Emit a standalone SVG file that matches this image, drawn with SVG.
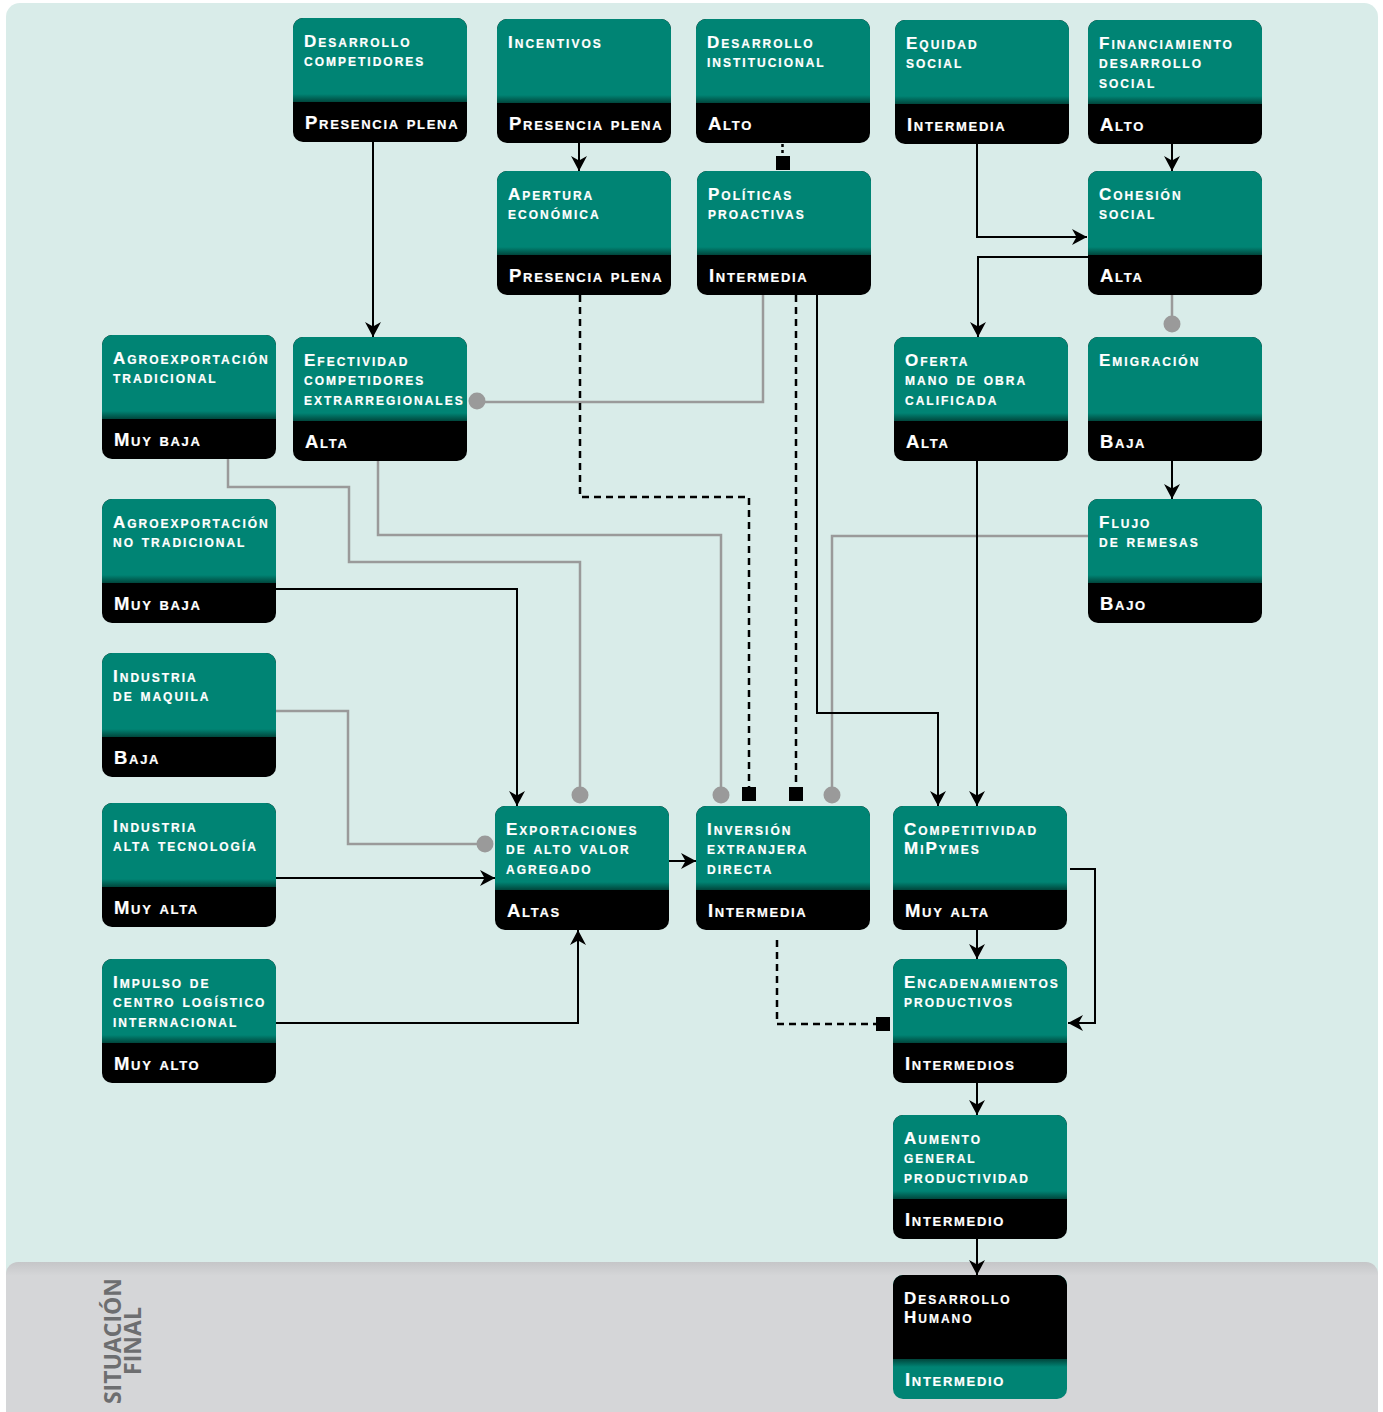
<svg xmlns="http://www.w3.org/2000/svg" width="1383" height="1412" viewBox="0 0 1383 1412">
<style>
.t{font-family:"Liberation Sans",Arial,sans-serif;font-weight:700;font-variant:small-caps;fill:#fff;stroke:#fff;stroke-width:0.2;font-size:17px;letter-spacing:2px}
.b{font-family:"Liberation Sans",Arial,sans-serif;font-weight:700;font-variant:small-caps;fill:#fff;stroke:#fff;stroke-width:0.2;font-size:18.5px;letter-spacing:1.7px}
.g{fill:#008474}
.ln{fill:none;stroke:#000;stroke-width:2}
.gr{fill:none;stroke:#9a9a9a;stroke-width:2.5}
.ds{fill:none;stroke:#000;stroke-width:2.5;stroke-dasharray:7 5}
.dot{fill:#9a9a9a}
.sq{fill:#000}
.sit{font-family:"Open Sans","Liberation Sans",sans-serif;font-weight:700;fill:#6d6e70;font-size:23px}
</style>
<defs>
<linearGradient id="shade" x1="0" y1="0" x2="0" y2="1">
<stop offset="0" stop-color="#008474"/><stop offset="1" stop-color="#00463c"/>
</linearGradient>
<linearGradient id="shadeInv" x1="0" y1="0" x2="0" y2="1">
<stop offset="0" stop-color="#00463c"/><stop offset="1" stop-color="#008474"/>
</linearGradient>
<linearGradient id="band" x1="0" y1="0" x2="0" y2="1">
<stop offset="0" stop-color="#c5c6c8"/><stop offset="0.08" stop-color="#d5d6d8"/><stop offset="1" stop-color="#d5d6d8"/>
</linearGradient>
<marker id="arr" viewBox="-16 -9 17 18" refX="0" refY="0" markerWidth="17" markerHeight="18" markerUnits="userSpaceOnUse" orient="auto">
<path d="M0,0 L-15,-8 L-10.5,0 L-15,8 Z" fill="#000"/>
</marker>
<g id="node">
<rect width="174" height="124" rx="10" fill="#000"/>
<path d="M0,84 V10 A10,10 0 0 1 10,0 H164 A10,10 0 0 1 174,10 V84 Z" class="g"/>
<rect y="76" width="174" height="8" fill="url(#shade)"/>
</g>
<g id="nodeInv">
<rect width="174" height="124" rx="10" class="g"/>
<path d="M0,84 V10 A10,10 0 0 1 10,0 H164 A10,10 0 0 1 174,10 V84 Z" fill="#000"/>
<rect y="84" width="174" height="8" fill="url(#shadeInv)"/>
</g>
</defs>

<rect x="0" y="0" width="1383" height="1412" fill="#fff"/>
<rect x="6" y="3" width="1372" height="1290" rx="14" fill="#d9ece9"/>
<rect x="6" y="1262" width="1372" height="170" rx="12" fill="url(#band)"/>
<text class="sit" transform="translate(121,1341) rotate(-90)" text-anchor="middle">SITUACIÓN</text>
<text class="sit" transform="translate(141,1341) rotate(-90)" text-anchor="middle">FINAL</text>

<g id="connectors">
<path class="ln" d="M373,142 V337" marker-end="url(#arr)"/>
<path class="ln" d="M579,142 V171" marker-end="url(#arr)"/>
<path d="M782.5,144 V156" fill="none" stroke="#000" stroke-width="2.5" stroke-dasharray="3 3"/>
<rect class="sq" x="776" y="156" width="14" height="14"/>
<path class="ln" d="M977,143 V237 H1087" marker-end="url(#arr)"/>
<path class="ln" d="M1172,143 V171" marker-end="url(#arr)"/>
<path class="ln" d="M1088,257 H978 V337" marker-end="url(#arr)"/>
<path class="gr" d="M1172,295 V324"/>
<circle class="dot" cx="1172" cy="324" r="8.5"/>
<path class="ln" d="M1172,460 V499" marker-end="url(#arr)"/>
<path class="gr" d="M1088,536 H832 V795"/>
<circle class="dot" cx="832" cy="795" r="8.5"/>
<path class="gr" d="M763,295 V402 H477"/>
<circle class="dot" cx="477" cy="401" r="8.5"/>
<path class="ds" d="M580,295 V497 H749 V787"/>
<rect class="sq" x="742" y="787" width="14" height="14"/>
<path class="ds" d="M796,295 V787"/>
<rect class="sq" x="789" y="787" width="14" height="14"/>
<path class="ln" d="M817,295 V713 H938 V806" marker-end="url(#arr)"/>
<path class="ln" d="M977,460 V806" marker-end="url(#arr)"/>
<path class="gr" d="M228,459 V487 H349 V562 H580 V795"/>
<circle class="dot" cx="580" cy="795" r="8.5"/>
<path class="gr" d="M378,460 V535 H721 V795"/>
<circle class="dot" cx="721" cy="795" r="8.5"/>
<path class="ln" d="M276,589 H517 V806" marker-end="url(#arr)"/>
<path class="gr" d="M276,711 H348 V844 H485"/>
<circle class="dot" cx="485" cy="844" r="8.5"/>
<path class="ln" d="M276,878 H495" marker-end="url(#arr)"/>
<path class="ln" d="M276,1023 H578 V930" marker-end="url(#arr)"/>
<path class="ln" d="M669,861 H696" marker-end="url(#arr)"/>
<path class="ln" d="M977,930 V959" marker-end="url(#arr)"/>
<path class="ln" d="M1070,869 H1095 V1023 H1068" marker-end="url(#arr)"/>
<path class="ds" d="M777,940 V1024 H876"/>
<rect class="sq" x="876" y="1017" width="14" height="14"/>
<path class="ln" d="M977,1083 V1115" marker-end="url(#arr)"/>
<path class="ln" d="M977,1239 V1275" marker-end="url(#arr)"/>
</g>

<g id="n-desarrollo-competidores" transform="translate(293,18)"><use href="#node"/>
<text class="t" x="11" y="28.5">Desarrollo<tspan x="11" dy="19.5">competidores</tspan></text>
<text class="b" x="12" y="111">Presencia plena</text></g>

<g id="n-incentivos" transform="translate(497,19)"><use href="#node"/>
<text class="t" x="11" y="28.5">Incentivos</text>
<text class="b" x="12" y="111">Presencia plena</text></g>

<g id="n-desarrollo-institucional" transform="translate(696,19)"><use href="#node"/>
<text class="t" x="11" y="28.5">Desarrollo<tspan x="11" dy="19.5">institucional</tspan></text>
<text class="b" x="12" y="111">Alto</text></g>

<g id="n-equidad-social" transform="translate(895,20)"><use href="#node"/>
<text class="t" x="11" y="28.5">Equidad<tspan x="11" dy="19.5">social</tspan></text>
<text class="b" x="12" y="111">Intermedia</text></g>

<g id="n-financiamiento" transform="translate(1088,20)"><use href="#node"/>
<text class="t" x="11" y="28.5">Financiamiento<tspan x="11" dy="19.5">desarrollo</tspan><tspan x="11" dy="19.5">social</tspan></text>
<text class="b" x="12" y="111">Alto</text></g>

<g id="n-apertura" transform="translate(497,171)"><use href="#node"/>
<text class="t" x="11" y="28.5">Apertura<tspan x="11" dy="19.5">económica</tspan></text>
<text class="b" x="12" y="111">Presencia plena</text></g>

<g id="n-politicas" transform="translate(697,171)"><use href="#node"/>
<text class="t" x="11" y="28.5">Políticas<tspan x="11" dy="19.5">proactivas</tspan></text>
<text class="b" x="12" y="111">Intermedia</text></g>

<g id="n-cohesion" transform="translate(1088,171)"><use href="#node"/>
<text class="t" x="11" y="28.5">Cohesión<tspan x="11" dy="19.5">social</tspan></text>
<text class="b" x="12" y="111">Alta</text></g>

<g id="n-agro-tradicional" transform="translate(102,335)"><use href="#node"/>
<text class="t" x="11" y="28.5">Agroexportación<tspan x="11" dy="19.5">tradicional</tspan></text>
<text class="b" x="12" y="111">Muy baja</text></g>

<g id="n-efectividad" transform="translate(293,337)"><use href="#node"/>
<text class="t" x="11" y="28.5">Efectividad<tspan x="11" dy="19.5">competidores</tspan><tspan x="11" dy="19.5">extrarregionales</tspan></text>
<text class="b" x="12" y="111">Alta</text></g>

<g id="n-oferta" transform="translate(894,337)"><use href="#node"/>
<text class="t" x="11" y="28.5">Oferta<tspan x="11" dy="19.5">mano de obra</tspan><tspan x="11" dy="19.5">calificada</tspan></text>
<text class="b" x="12" y="111">Alta</text></g>

<g id="n-emigracion" transform="translate(1088,337)"><use href="#node"/>
<text class="t" x="11" y="28.5">Emigración</text>
<text class="b" x="12" y="111">Baja</text></g>

<g id="n-agro-no-tradicional" transform="translate(102,499)"><use href="#node"/>
<text class="t" x="11" y="28.5">Agroexportación<tspan x="11" dy="19.5">no tradicional</tspan></text>
<text class="b" x="12" y="111">Muy baja</text></g>

<g id="n-flujo-remesas" transform="translate(1088,499)"><use href="#node"/>
<text class="t" x="11" y="28.5">Flujo<tspan x="11" dy="19.5">de remesas</tspan></text>
<text class="b" x="12" y="111">Bajo</text></g>

<g id="n-maquila" transform="translate(102,653)"><use href="#node"/>
<text class="t" x="11" y="28.5">Industria<tspan x="11" dy="19.5">de maquila</tspan></text>
<text class="b" x="12" y="111">Baja</text></g>

<g id="n-alta-tecnologia" transform="translate(102,803)"><use href="#node"/>
<text class="t" x="11" y="28.5">Industria<tspan x="11" dy="19.5">alta tecnología</tspan></text>
<text class="b" x="12" y="111">Muy alta</text></g>

<g id="n-impulso" transform="translate(102,959)"><use href="#node"/>
<text class="t" x="11" y="28.5">Impulso de<tspan x="11" dy="19.5">centro logístico</tspan><tspan x="11" dy="19.5">internacional</tspan></text>
<text class="b" x="12" y="111">Muy alto</text></g>

<g id="n-exportaciones" transform="translate(495,806)"><use href="#node"/>
<text class="t" x="11" y="28.5">Exportaciones<tspan x="11" dy="19.5">de alto valor</tspan><tspan x="11" dy="19.5">agregado</tspan></text>
<text class="b" x="12" y="111">Altas</text></g>

<g id="n-inversion" transform="translate(696,806)"><use href="#node"/>
<text class="t" x="11" y="28.5">Inversión<tspan x="11" dy="19.5">extranjera</tspan><tspan x="11" dy="19.5">directa</tspan></text>
<text class="b" x="12" y="111">Intermedia</text></g>

<g id="n-competitividad" transform="translate(893,806)"><use href="#node"/>
<text class="t" x="11" y="28.5">Competitividad<tspan x="11" dy="19.5">MiPymes</tspan></text>
<text class="b" x="12" y="111">Muy alta</text></g>

<g id="n-encadenamientos" transform="translate(893,959)"><use href="#node"/>
<text class="t" x="11" y="28.5">Encadenamientos<tspan x="11" dy="19.5">productivos</tspan></text>
<text class="b" x="12" y="111">Intermedios</text></g>

<g id="n-aumento" transform="translate(893,1115)"><use href="#node"/>
<text class="t" x="11" y="28.5">Aumento<tspan x="11" dy="19.5">general</tspan><tspan x="11" dy="19.5">productividad</tspan></text>
<text class="b" x="12" y="111">Intermedio</text></g>

<g id="n-desarrollo-humano" transform="translate(893,1275)"><use href="#nodeInv"/>
<text class="t" x="11" y="28.5">Desarrollo<tspan x="11" dy="19.5">Humano</tspan></text>
<text class="b" x="12" y="111">Intermedio</text></g>
</svg>
